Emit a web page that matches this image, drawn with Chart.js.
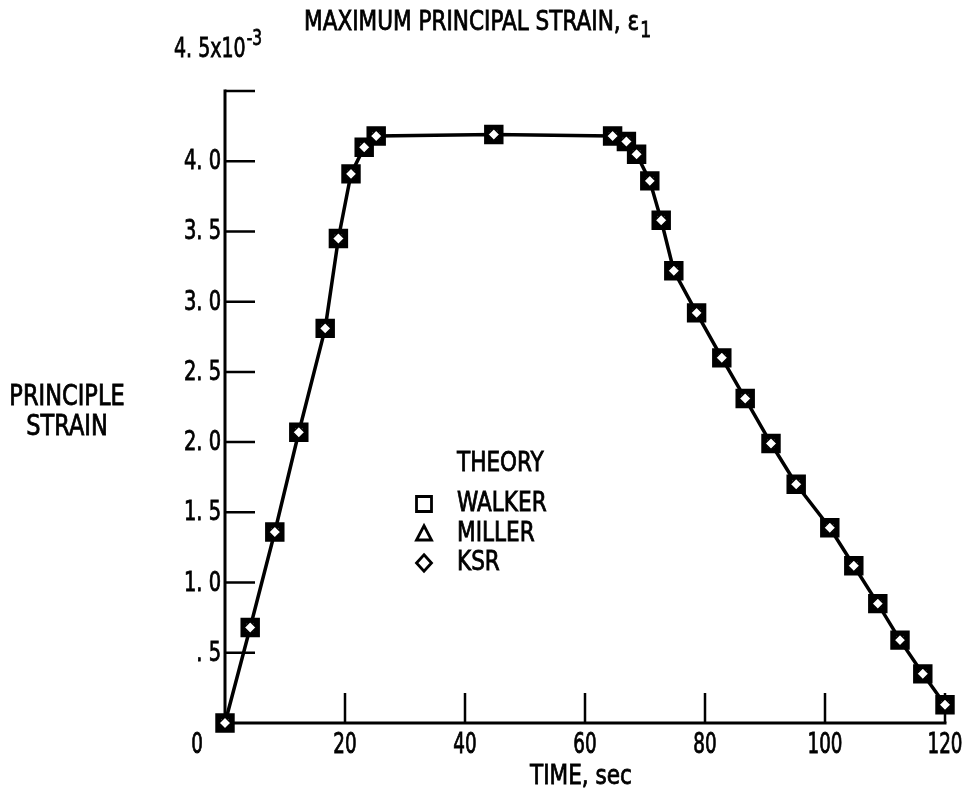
<!DOCTYPE html>
<html><head><meta charset="utf-8">
<script src="https://cdn.jsdelivr.net/npm/chart.js@4.4.0/dist/chart.umd.min.js"></script>
<style>html,body{margin:0;padding:0;background:#fff;} #wrap{width:963px;height:804px;}</style>
</head><body><div id="wrap"><canvas id="c" width="963" height="804"></canvas></div>
<script>
// ---- data (time in sec, strain in units of 10^-3) ----
const timeSec = [0, 4.2, 8.3, 12.3, 16.7, 18.9, 21.0, 23.2, 25.2, 44.8, 64.6, 66.9, 68.6, 70.8, 72.7, 74.8, 78.6, 82.8, 86.7, 91.0, 95.2, 100.8, 104.8, 108.8, 112.5, 116.3, 120];
const walker  = [0, 0.68, 1.36, 2.07, 2.81, 3.45, 3.91, 4.10, 4.18, 4.19, 4.18, 4.14, 4.05, 3.86, 3.58, 3.22, 2.92, 2.60, 2.31, 1.99, 1.70, 1.39, 1.12, 0.85, 0.59, 0.35, 0.13];
const miller  = [0, 0.68, 1.36, 2.07, 2.81, 3.45, 3.91, 4.10, 4.18, 4.19, 4.18, 4.14, 4.05, 3.86, 3.58, 3.22, 2.92, 2.60, 2.31, 1.99, 1.70, 1.39, 1.12, 0.85, 0.59, 0.35, 0.13];
const ksr     = [0, 0.68, 1.36, 2.07, 2.81, 3.45, 3.91, 4.10, 4.18, 4.19, 4.18, 4.14, 4.05, 3.86, 3.58, 3.22, 2.92, 2.60, 2.31, 1.99, 1.70, 1.39, 1.12, 0.85, 0.59, 0.35, 0.13];
const xTickValues = [20, 40, 60, 80, 100, 120];
const xTickLabels = ['20', '40', '60', '80', '100', '120'];
const yTickValues = [0.5, 1.0, 1.5, 2.0, 2.5, 3.0, 3.5, 4.0, 4.5];
const yTickLabels = ['. 5', '1. 0', '1. 5', '2. 0', '2. 5', '3. 0', '3. 5', '4. 0'];
const yTopLabel = '4. 5x10';
const yTopExponent = '-3';
const seriesNames = ['WALKER', 'MILLER', 'KSR'];
const titleText = 'MAXIMUM PRINCIPAL STRAIN, ';
const xTitle = 'TIME, sec';
const yTitle = ['PRINCIPLE', 'STRAIN'];
const legendTitle = 'THEORY';

const FONT = '"Liberation Sans Narrow", "DejaVu Sans Condensed", sans-serif';
const pts = arr => timeSec.map((t, i) => ({x: t, y: arr[i]}));

function txt(ctx, s, x, y, size, align, baseline, sx, sy) {
  sx = sx || 1; sy = sy || 1.1;
  ctx.save();
  ctx.translate(x, y);
  ctx.scale(sx, sy);
  ctx.font = size + 'px ' + FONT;
  ctx.textAlign = align;
  ctx.textBaseline = baseline;
  ctx.fillStyle = '#000';
  ctx.strokeStyle = '#000';
  ctx.lineWidth = 0.7;
  ctx.fillText(s, 0, 0);
  ctx.strokeText(s, 0, 0);
  const w = ctx.measureText(s).width * sx;
  ctx.restore();
  return w;
}

function drawMarker(ctx, style, x, y, r) {
  ctx.beginPath();
  if (style === 'rect') {
    ctx.rect(x - r, y - r, 2 * r, 2 * r);
  } else if (style === 'triangle') {
    ctx.moveTo(x, y - r * 1.1);
    ctx.lineTo(x + r, y + r * 0.8);
    ctx.lineTo(x - r, y + r * 0.8);
    ctx.closePath();
  } else {
    ctx.moveTo(x, y - r * 1.1);
    ctx.lineTo(x + r, y);
    ctx.lineTo(x, y + r * 1.1);
    ctx.lineTo(x - r, y);
    ctx.closePath();
  }
  ctx.stroke();
}

const decor = {
  id: 'decor',
  beforeDatasetsDraw(chart) {
    const {ctx, scales: {x, y}} = chart;
    ctx.save();
    ctx.strokeStyle = '#000';
    ctx.lineWidth = 3;
    ctx.lineCap = 'butt';
    const x0 = x.getPixelForValue(0), y0 = y.getPixelForValue(0);
    ctx.beginPath();
    ctx.moveTo(x0, y0 + 1.5);
    ctx.lineTo(x0, y.getPixelForValue(4.5) - 1.5);
    ctx.moveTo(x0 - 1.5, y0);
    ctx.lineTo(x.getPixelForValue(120) + 1.5, y0);
    ctx.stroke();
    ctx.lineWidth = 2.5;
    ctx.beginPath();
    yTickValues.forEach(v => {
      const py = y.getPixelForValue(v);
      ctx.moveTo(x0, py);
      ctx.lineTo(x0 + 30, py);
    });
    xTickValues.forEach(v => {
      const px = x.getPixelForValue(v);
      ctx.moveTo(px, y0);
      ctx.lineTo(px, y0 - 30);
    });
    ctx.stroke();
    ctx.restore();
  },
  afterDraw(chart) {
    const {ctx, scales: {x, y}} = chart;
    const x0 = x.getPixelForValue(0);
    // y tick labels
    yTickLabels.forEach((lab, i) => {
      txt(ctx, lab, x0 - 4, y.getPixelForValue(yTickValues[i]) + 1, 24, 'right', 'middle', 0.9, 1.12);
    });
    // top label with exponent
    const w = txt(ctx, yTopLabel, 174, 57, 24, 'left', 'alphabetic', 0.88, 1.12);
    txt(ctx, yTopExponent, 174 + w + 1, 45, 19, 'left', 'alphabetic', 0.9, 1.12);
    // x tick labels
    xTickLabels.forEach((lab, i) => {
      txt(ctx, lab, x.getPixelForValue(xTickValues[i]), 746, 24, 'center', 'middle', 0.85, 1.15);
    });
    txt(ctx, '0', 197, 746, 24, 'center', 'middle', 0.85, 1.15);
    // axis titles
    txt(ctx, xTitle, 581, 777, 24, 'center', 'middle', 1, 1.12);
    txt(ctx, yTitle[0], 67, 398, 25, 'center', 'middle', 1, 1.1);
    txt(ctx, yTitle[1], 67, 428, 25, 'center', 'middle', 1, 1.1);
    // chart title
    let tx = 304;
    tx += txt(ctx, titleText, tx, 30, 24, 'left', 'alphabetic', 1, 1.1);
    tx += txt(ctx, '\u03b5', tx, 30, 24, 'left', 'alphabetic', 1, 1.1);
    txt(ctx, '1', tx + 1, 37, 19, 'left', 'alphabetic', 1, 1.1);
    // legend
    txt(ctx, legendTitle, 457, 464, 24, 'left', 'middle', 1, 1.12);
    const ly = [504, 534, 563];
    const styles = ['rect', 'triangle', 'diamond'];
    ctx.save();
    ctx.strokeStyle = '#000';
    ctx.lineWidth = 2.8;
    ctx.lineJoin = 'miter';
    seriesNames.forEach((n, i) => {
      txt(ctx, n, 457, ly[i], 24, 'left', 'middle', 1, 1.12);
      drawMarker(ctx, styles[i], 424, ly[i], 7.5);
    });
    ctx.restore();
  }
};

new Chart(document.getElementById('c'), {
  type: 'scatter',
  data: {
    datasets: [
      {label: seriesNames[0], data: pts(walker), showLine: true, borderColor: '#000', borderWidth: 3.5,
       tension: 0, pointStyle: 'rect', pointRadius: 9.5, pointBorderWidth: 6,
       pointBackgroundColor: '#fff', pointBorderColor: '#000', order: 3, clip: false},
      {label: seriesNames[1], data: pts(miller), showLine: false, pointStyle: 'triangle', pointRadius: 6.5,
       pointBorderWidth: 1.5, pointBackgroundColor: '#fff', pointBorderColor: '#000', order: 2, clip: false},
      {label: seriesNames[2], data: pts(ksr), showLine: false, pointStyle: 'rectRot', pointRadius: 6,
       pointBorderWidth: 1.5, pointBackgroundColor: '#fff', pointBorderColor: '#000', order: 1, clip: false}
    ]
  },
  options: {
    responsive: false,
    animation: false,
    events: [],
    layout: {padding: {left: 225, right: 18, top: 91, bottom: 81}},
    scales: {
      x: {type: 'linear', min: 0, max: 120, display: false},
      y: {type: 'linear', min: 0, max: 4.5, display: false}
    },
    plugins: {legend: {display: false}, title: {display: false}, tooltip: {enabled: false}}
  },
  plugins: [decor]
});
</script>
</body></html>
